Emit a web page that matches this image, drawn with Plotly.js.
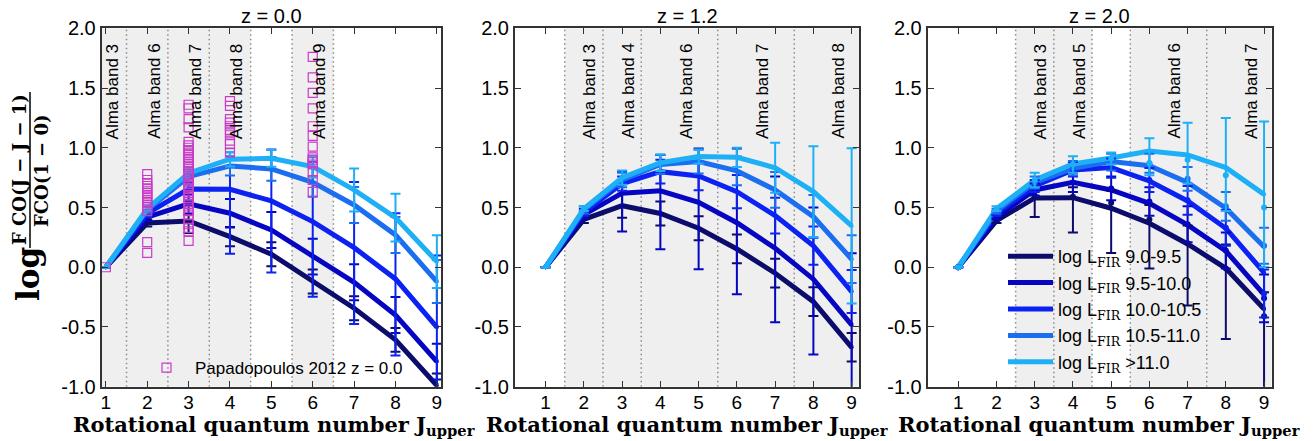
<!DOCTYPE html>
<html>
<head>
<meta charset="utf-8">
<script src="https://cdn.plot.ly/plotly-3.0.1.min.js"></script>
<style>html,body{margin:0;padding:0;background:#fff;}#chart{width:1315px;height:441px;}</style>
</head>
<body>
<div id="chart"></div>
<script>
// ---------------- DATA ----------------
const J = [1, 2, 3, 4, 5, 6, 7, 8, 9];
const binLabels = ['9.0-9.5', '9.5-10.0', '10.0-10.5', '10.5-11.0', '>11.0'];
const panelTitles = ['z = 0.0', 'z = 1.2', 'z = 2.0'];
const yTickVals = [-1, -0.5, 0, 0.5, 1, 1.5, 2];
const yTickText = ['-1.0', '-0.5', '0.0', '0.5', '1.0', '1.5', '2.0'];

// z = 0.0 : line values per log L_FIR bin
const z00_s1 = [0, 0.37, 0.387, 0.256, 0.109, -0.12, -0.343, -0.608, -0.99];
const z00_s2 = [0, 0.42, 0.53, 0.452, 0.312, 0.089, -0.126, -0.40, -0.79];
const z00_s3 = [0, 0.45, 0.655, 0.653, 0.555, 0.382, 0.164, -0.098, -0.502];
const z00_s4 = [0, 0.48, 0.758, 0.848, 0.823, 0.711, 0.521, 0.27, -0.12];
const z00_s5 = [0, 0.49, 0.787, 0.904, 0.912, 0.842, 0.647, 0.415, 0.047];
// z = 0.0 : error bars (up / down)
const z00_e1u = [0, 0.03, 0.05, 0.08, 0.1, 0.1, 0.1, 0.1, 0.1];
const z00_e1d = [0, 0.03, 0.1, 0.08, 0.1, 0.1, 0.1, 0.1, 0.1];
const z00_e2u = [0, 0.03, 0.08, 0.12, 0.15, 0.15, 0.15, 0.15, 0.15];
const z00_e2d = [0, 0.03, 0.08, 0.12, 0.15, 0.15, 0.15, 0.15, 0.15];
const z00_e3u = [0, 0.03, 0.05, 0.31, 0.43, 0.5, 0.55, 0.55, 0.6];
const z00_e3d = [0, 0.03, 0.1, 0.54, 0.6, 0.63, 0.64, 0.64, 0.6];
const z00_e4u = [0, 0.03, 0.06, 0.08, 0.1, 0.12, 0.15, 0.15, 0.18];
const z00_e4d = [0, 0.03, 0.06, 0.08, 0.1, 0.12, 0.15, 0.15, 0.18];
const z00_e5u = [0, 0.02, 0.05, 0.06, 0.07, 0.09, 0.18, 0.2, 0.22];
const z00_e5d = [0, 0.02, 0.05, 0.06, 0.07, 0.09, 0.18, 0.2, 0.22];

// z = 1.2
const z12_s1 = [0, 0.40, 0.515, 0.45, 0.326, 0.153, -0.05, -0.288, -0.67];
const z12_s2 = [0, 0.44, 0.62, 0.64, 0.544, 0.373, 0.159, -0.10, -0.483];
const z12_s3 = [0, 0.46, 0.70, 0.80, 0.764, 0.633, 0.432, 0.18, -0.204];
const z12_s4 = [0, 0.48, 0.73, 0.86, 0.884, 0.806, 0.647, 0.424, 0.067];
const z12_s5 = [0, 0.49, 0.75, 0.875, 0.926, 0.92, 0.833, 0.633, 0.346];
const z12_e1u = [0, 0.03, 0.1, 0.1, 0.1, 0.12, 0.12, 0.12, 0.12];
const z12_e1d = [0, 0.03, 0.1, 0.1, 0.1, 0.12, 0.12, 0.12, 0.12];
const z12_e2u = [0, 0.03, 0.18, 0.3, 0.45, 0.62, 0.6, 0.6, 0.6];
const z12_e2d = [0, 0.03, 0.32, 0.49, 0.56, 0.6, 0.62, 0.63, 0.62];
const z12_e3u = [0, 0.03, 0.06, 0.1, 0.12, 0.14, 0.15, 0.16, 0.18];
const z12_e3d = [0, 0.03, 0.06, 0.1, 0.12, 0.14, 0.15, 0.16, 0.18];
const z12_e4u = [0, 0.03, 0.06, 0.08, 0.1, 0.12, 0.15, 0.18, 0.2];
const z12_e4d = [0, 0.03, 0.06, 0.08, 0.1, 0.12, 0.15, 0.18, 0.2];
const z12_e5u = [0, 0.02, 0.06, 0.07, 0.06, 0.08, 0.21, 0.38, 0.65];
const z12_e5d = [0, 0.02, 0.06, 0.07, 0.06, 0.08, 0.21, 0.38, 0.65];

// z = 2.0 : lines
const z20_s1 = [0, 0.39, 0.58, 0.582, 0.494, 0.368, 0.195, -0.009, -0.35];
const z20_s2 = [0, 0.42, 0.647, 0.71, 0.647, 0.535, 0.354, 0.136, -0.23];
const z20_s3 = [0, 0.45, 0.68, 0.814, 0.834, 0.722, 0.555, 0.326, -0.045];
const z20_s4 = [0, 0.47, 0.71, 0.828, 0.884, 0.85, 0.71, 0.494, 0.172];
const z20_s5 = [0, 0.49, 0.73, 0.864, 0.915, 0.973, 0.94, 0.834, 0.61];
// z = 2.0 : dots (with error bars)
const z20_d1 = [0, 0.39, 0.60, 0.59, 0.54, 0.40, 0.20, -0.01, -0.41];
const z20_d2 = [0, 0.42, 0.65, 0.71, 0.66, 0.55, 0.36, 0.14, -0.26];
const z20_d3 = [0, 0.45, 0.68, 0.82, 0.83, 0.73, 0.56, 0.33, -0.22];
const z20_d4 = [0, 0.47, 0.71, 0.83, 0.88, 0.87, 0.74, 0.51, 0.18];
const z20_d5 = [0, 0.49, 0.73, 0.86, 0.91, 0.87, 0.90, 0.77, 0.50];
const z20_e1u = [0, 0.02, 0.06, 0.08, 0.1, 0.12, 0.15, 0.2, 0.2];
const z20_e1d = [0, 0.02, 0.18, 0.3, 0.42, 0.41, 0.52, 0.59, 0.7];
const z20_e2u = [0, 0.02, 0.05, 0.08, 0.1, 0.12, 0.15, 0.15, 0.2];
const z20_e2d = [0, 0.02, 0.05, 0.08, 0.1, 0.12, 0.15, 0.15, 0.2];
const z20_e3u = [0, 0.02, 0.05, 0.06, 0.08, 0.1, 0.12, 0.15, 0.2];
const z20_e3d = [0, 0.02, 0.05, 0.06, 0.08, 0.1, 0.12, 0.15, 0.2];
const z20_e4u = [0, 0.02, 0.05, 0.06, 0.07, 0.08, 0.1, 0.12, 0.15];
const z20_e4d = [0, 0.02, 0.05, 0.06, 0.07, 0.08, 0.1, 0.12, 0.15];
const z20_e5u = [0, 0.02, 0.06, 0.07, 0.05, 0.21, 0.31, 0.48, 0.72];
const z20_e5d = [0, 0.02, 0.06, 0.07, 0.05, 0.1, 0.2, 0.3, 0.5];

// Papadopoulos 2012, z = 0.0 observed ratios, grouped by J_upper
const pap_J1 = [0];
const pap_J2 = [0.78, 0.73, 0.70, 0.68, 0.66, 0.64, 0.62, 0.60, 0.58, 0.56, 0.54, 0.52, 0.50, 0.47, 0.21, 0.12];
const pap_J3 = [1.36, 1.33, 1.24, 1.17, 1.05, 1.02, 1.0, 0.98, 0.96, 0.94, 0.92, 0.9, 0.88, 0.86, 0.84, 0.82, 0.8, 0.78, 0.76, 0.74, 0.72, 0.7, 0.68, 0.66, 0.64, 0.62, 0.6, 0.58, 0.56, 0.53, 0.5, 0.47, 0.44, 0.4, 0.36, 0.33, 0.3, 0.22];
const pap_J4 = [1.39, 1.35, 1.24, 1.21, 1.18, 1.15, 1.12, 1.06, 1.03, 0.96];
const pap_J6 = [1.76, 1.59, 1.46, 1.33, 1.18, 1.1, 1.01, 0.92, 0.9, 0.88, 0.86, 0.8, 0.73, 0.63];

// ALMA bands: label names, label positions, shaded spans, dotted boundaries
const z00_bandNames = ['Alma band 3', 'Alma band 6', 'Alma band 7', 'Alma band 8', 'Alma band 9'];
const z00_bandPos = [1.17, 2.17, 3.17, 4.16, 6.16];
const z00_shade = [[0.9, 4.5], [5.5, 6.5]];
const z00_bounds = [1.5, 2.5, 3.5, 4.5, 5.5, 6.5];
const z12_bandNames = ['Alma band 3', 'Alma band 4', 'Alma band 6', 'Alma band 7', 'Alma band 8'];
const z12_bandPos = [2.16, 3.18, 4.68, 6.67, 8.67];
const z12_shade = [[1.5, 9.2]];
const z12_bounds = [1.5, 2.5, 3.5, 5.5, 7.5];
const z20_bandNames = ['Alma band 3', 'Alma band 5', 'Alma band 6', 'Alma band 7'];
const z20_bandPos = [3.16, 4.17, 6.67, 8.67];
const z20_shade = [[2.5, 4.5], [5.5, 9.2]];
const z20_bounds = [2.5, 3.5, 4.5, 5.5, 7.5];

// ---------------- STYLE ----------------
const colors = ['#0c0c6c', '#0606c2', '#0c22f2', '#1c6ef0', '#1eb0f6'];
const sansFont = 'Liberation Sans, Arial, Helvetica, sans-serif';
const serifFont = 'DejaVu Serif, Liberation Serif, serif';

const traces = [];
function addPanel(ax, series, errU, errD) {
  const xa = 'x' + (ax === 1 ? '' : ax), ya = 'y' + (ax === 1 ? '' : ax);
  series.forEach((s, i) => {
    traces.push({
      x: J, y: s, xaxis: xa, yaxis: ya, type: 'scatter', mode: 'lines+markers',
      line: {color: colors[i], width: 5},
      marker: {color: colors[i], size: 4},
      error_y: errU ? {type: 'data', symmetric: false, array: errU[i], arrayminus: errD[i],
        color: colors[i], thickness: 2, width: 5} : {visible: false},
      name: 'log L<sub><span style="font-family:' + "'DejaVu Serif'" + '">FIR</span></sub> ' + binLabels[i],
      showlegend: ax === 3, legend: 'legend', hoverinfo: 'skip'
    });
  });
}
addPanel(1, [z00_s1, z00_s2, z00_s3, z00_s4, z00_s5],
  [z00_e1u, z00_e2u, z00_e3u, z00_e4u, z00_e5u], [z00_e1d, z00_e2d, z00_e3d, z00_e4d, z00_e5d]);
addPanel(2, [z12_s1, z12_s2, z12_s3, z12_s4, z12_s5],
  [z12_e1u, z12_e2u, z12_e3u, z12_e4u, z12_e5u], [z12_e1d, z12_e2d, z12_e3d, z12_e4d, z12_e5d]);
addPanel(3, [z20_s1, z20_s2, z20_s3, z20_s4, z20_s5], null, null);
// z=2.0 dots with error bars
[z20_d1, z20_d2, z20_d3, z20_d4, z20_d5].forEach((d, i) => {
  const eu = [z20_e1u, z20_e2u, z20_e3u, z20_e4u, z20_e5u][i];
  const ed = [z20_e1d, z20_e2d, z20_e3d, z20_e4d, z20_e5d][i];
  traces.push({
    x: J, y: d, xaxis: 'x3', yaxis: 'y3', type: 'scatter', mode: 'markers',
    marker: {color: colors[i], size: 6},
    error_y: {type: 'data', symmetric: false, array: eu, arrayminus: ed, color: colors[i], thickness: 2, width: 5},
    showlegend: false, hoverinfo: 'skip'
  });
});
// Papadopoulos points
const papX = [], papY = [];
[[1, pap_J1], [2, pap_J2], [3, pap_J3], [4, pap_J4], [6, pap_J6]].forEach(([j, arr]) => {
  arr.forEach(v => { papX.push(j); papY.push(v); });
});
traces.push({
  x: papX, y: papY, xaxis: 'x', yaxis: 'y', type: 'scatter', mode: 'markers',
  marker: {symbol: 'square-open', size: 9, color: '#c83cc8', line: {width: 1.2, color: '#c83cc8'}},
  name: 'Papadopoulos 2012 z = 0.0', showlegend: true, legend: 'legend2', hoverinfo: 'skip'
});

// ---------------- LAYOUT ----------------
const W = 1315, H = 441;
const px = v => v / W, py = v => 1 - v / H;
const yDom = [py(386.7), py(28.3)];
const xDoms = [[px(101.7), px(441)], [px(515), px(859.3)], [px(927.7), px(1271.7)]];
const xRanges = [[0.9, 9.1], [0.2, 9.2], [0.2, 9.2]];

function xAxis(i) {
  return {
    domain: xDoms[i], range: xRanges[i], anchor: 'y' + (i === 0 ? '' : i + 1),
    tickvals: J, ticks: 'inside', ticklen: 6, tickwidth: 1, tickcolor: '#333',
    showline: true, linecolor: '#333', linewidth: 2, mirror: 'ticks',
    showgrid: false, zeroline: false, ticklabelstandoff: -3,
    tickfont: {family: sansFont, size: 19, color: '#000'}
  };
}
function yAxis(i) {
  return {
    domain: yDom, range: [-1, 2], anchor: 'x' + (i === 0 ? '' : i + 1),
    tickvals: yTickVals, ticktext: yTickText, ticks: 'inside', ticklen: 6, tickwidth: 1, tickcolor: '#333',
    showline: true, linecolor: '#333', linewidth: 2, mirror: 'ticks',
    showgrid: false, zeroline: false,
    tickfont: {family: sansFont, size: 20, color: '#000'}
  };
}

const shapes = [], annotations = [];
const bandSets = [
  [z00_shade, z00_bounds, z00_bandNames, z00_bandPos],
  [z12_shade, z12_bounds, z12_bandNames, z12_bandPos],
  [z20_shade, z20_bounds, z20_bandNames, z20_bandPos]
];
const titleCenters = [274, 687, 1099];
bandSets.forEach(([shade, bounds, names, pos], i) => {
  const xr = 'x' + (i === 0 ? '' : i + 1), yr = 'y' + (i === 0 ? '' : i + 1);
  shade.forEach(([a, b]) => shapes.push({type: 'rect', xref: xr, yref: yr, x0: a, x1: b, y0: -1, y1: 2,
    fillcolor: '#efefef', line: {width: 0}, layer: 'below'}));
  bounds.forEach(b => shapes.push({type: 'line', xref: xr, yref: yr, x0: b, x1: b, y0: -1, y1: 2,
    line: {color: '#8a8a8a', width: 1.5, dash: '1.5px,3px'}, layer: 'below'}));
  names.forEach((n, k) => annotations.push({xref: xr, yref: yr, x: pos[k], y: 1.885, text: n,
    textangle: -90, xanchor: 'center', yanchor: 'top', showarrow: false,
    font: {family: sansFont, size: 17, color: '#000'}}));
  const c = (xDoms[i][0] + xDoms[i][1]) / 2;
  annotations.push({xref: 'paper', yref: 'paper', x: c, y: py(16), text: panelTitles[i],
    xanchor: 'center', yanchor: 'middle', showarrow: false, font: {family: sansFont, size: 20, color: '#000'}});
  annotations.push({xref: 'paper', yref: 'paper', x: px(titleCenters[i]), y: py(425), text: '<b>Rotational quantum number J<sub>upper</sub></b>',
    xanchor: 'center', yanchor: 'middle', showarrow: false, font: {family: serifFont, size: 21, color: '#000'}});
});
// y-axis title: log (FCO(J-J-1)/FCO(1-0))
annotations.push({xref: 'paper', yref: 'paper', x: px(28), y: py(274), text: '<b>log</b>', textangle: -90,
  xanchor: 'center', yanchor: 'middle', showarrow: false, font: {family: serifFont, size: 31, color: '#000'}});
annotations.push({xref: 'paper', yref: 'paper', x: px(19), y: py(170), text: '<b>F CO(J − J − 1)</b>', textangle: -90,
  xanchor: 'center', yanchor: 'middle', showarrow: false, font: {family: serifFont, size: 18, color: '#000'}});
annotations.push({xref: 'paper', yref: 'paper', x: px(41), y: py(171), text: '<b>FCO(1 − 0)</b>', textangle: -90,
  xanchor: 'center', yanchor: 'middle', showarrow: false, font: {family: serifFont, size: 18, color: '#000'}});
shapes.push({type: 'line', xref: 'paper', yref: 'paper', x0: px(30), x1: px(30), y0: py(92), y1: py(248),
  line: {color: '#000', width: 1.5}});

const layout = {
  width: W, height: H, margin: {l: 0, r: 0, t: 0, b: 0},
  paper_bgcolor: '#fff', plot_bgcolor: '#fff',
  xaxis: xAxis(0), yaxis: yAxis(0), xaxis2: xAxis(1), yaxis2: yAxis(1), xaxis3: xAxis(2), yaxis3: yAxis(2),
  shapes: shapes, annotations: annotations,
  legend: {x: px(1003), y: py(238), xanchor: 'left', yanchor: 'top', bgcolor: 'rgba(0,0,0,0)', itemwidth: 45,
    font: {family: sansFont, size: 18, color: '#000'}, tracegroupgap: 0},
  legend2: {x: px(138), y: py(350), xanchor: 'left', yanchor: 'top', bgcolor: 'rgba(0,0,0,0)', itemwidth: 47,
    font: {family: sansFont, size: 17, color: '#000'}},
  showlegend: true
};
Plotly.newPlot('chart', traces, layout, {staticPlot: true, displayModeBar: false});
</script>
</body>
</html>
